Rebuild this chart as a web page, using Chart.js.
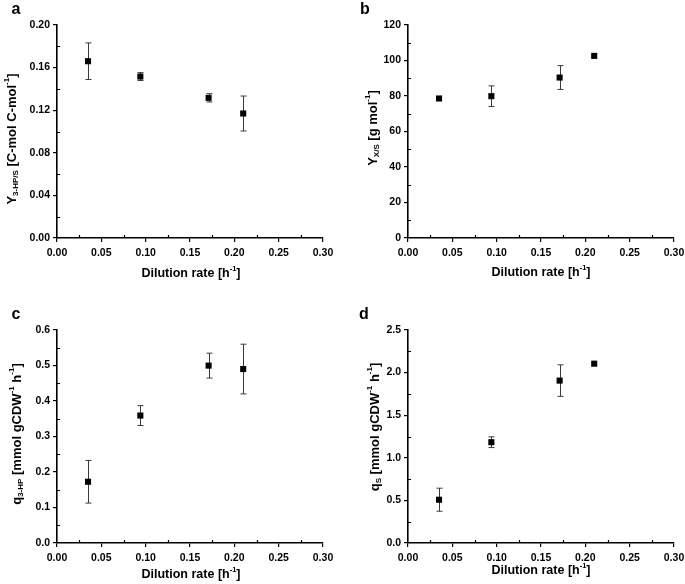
<!DOCTYPE html>
<html>
<head>
<meta charset="utf-8">
<script src="https://cdn.jsdelivr.net/npm/chart.js@4"></script>
<style>
  html, body { margin: 0; padding: 0; background: #fff; }
  #wrap { position: relative; width: 685px; height: 584px; overflow: hidden; }
  canvas { position: absolute; }
</style>
</head>
<body>
<div id="wrap">
  <canvas id="ca"></canvas>
  <canvas id="cb"></canvas>
  <canvas id="cc"></canvas>
  <canvas id="cd"></canvas>
</div>
<script>
// ---- data ----
const dilutionRate = [0.035, 0.094, 0.171, 0.210];
const xTicks = [0.00, 0.05, 0.10, 0.15, 0.20, 0.25, 0.30];

const yield3HP = [0.166, 0.1516, 0.1316, 0.1169];
const yield3HPsd = [0.0172, 0.0037, 0.0039, 0.0164];
const yield3HPticks = [0.00, 0.04, 0.08, 0.12, 0.16, 0.20];

const yieldXS = [78.6, 79.9, 90.4, 102.6];
const yieldXSsd = [0, 5.8, 6.7, 0];
const yieldXSticks = [0, 20, 40, 60, 80, 100, 120];

const q3HP = [0.1725, 0.359, 0.4997, 0.490];
const q3HPsd = [0.060, 0.028, 0.035, 0.070];
const q3HPticks = [0.0, 0.1, 0.2, 0.3, 0.4, 0.5, 0.6];

const qS = [0.508, 1.183, 1.906, 2.105];
const qSsd = [0.135, 0.063, 0.185, 0];
const qSticks = [0.0, 0.5, 1.0, 1.5, 2.0, 2.5];

const FONT = '"Liberation Sans", Arial, Helvetica, sans-serif';

function richText(ctx, segs, x, y, rotate) {
  ctx.save();
  ctx.translate(x, y);
  if (rotate) ctx.rotate(-Math.PI / 2);
  let total = 0;
  segs.forEach(s => {
    ctx.font = `bold ${s.size}px ${FONT}`;
    s.w = ctx.measureText(s.t).width;
    total += s.w;
  });
  let cx = -total / 2;
  ctx.textBaseline = 'middle';
  ctx.textAlign = 'left';
  ctx.fillStyle = '#000';
  segs.forEach(s => {
    ctx.font = `bold ${s.size}px ${FONT}`;
    ctx.fillText(s.t, cx, s.dy || 0);
    cx += s.w;
  });
  ctx.restore();
}

const xTitleSegs = [
  {t: 'Dilution rate [h', size: 12.5},
  {t: '-1', size: 7.5, dy: -5},
  {t: ']', size: 12.5}
];

function makePanel(p) {
  const cv = document.getElementById(p.id);
  cv.width = p.w; cv.height = p.h;
  cv.style.left = p.left + 'px'; cv.style.top = p.top + 'px';
  cv.style.width = p.w + 'px'; cv.style.height = p.h + 'px';

  const yStep = p.yTicks[1] - p.yTicks[0];
  const xStep = xTicks[1] - xTicks[0];

  const plugin = {
    id: 'extras' + p.id,
    beforeDatasetsDraw(chart) {
      const ctx = chart.ctx;
      const xs = chart.scales.x, ys = chart.scales.y;
      ctx.save();
      ctx.strokeStyle = '#3a3a3a';
      ctx.lineWidth = 1;
      dilutionRate.forEach((xv, i) => {
        const sd = p.sd[i];
        if (!sd) return;
        const px = Math.round(xs.getPixelForValue(xv)) + 0.5;
        const y1 = ys.getPixelForValue(p.values[i] + sd);
        const y2 = ys.getPixelForValue(p.values[i] - sd);
        ctx.beginPath();
        ctx.moveTo(px, y1); ctx.lineTo(px, y2);
        ctx.moveTo(px - 3, y1); ctx.lineTo(px + 3, y1);
        ctx.moveTo(px - 3, y2); ctx.lineTo(px + 3, y2);
        ctx.stroke();
      });
      ctx.restore();
    },
    afterDraw(chart) {
      const ctx = chart.ctx;
      const xs = chart.scales.x, ys = chart.scales.y;
      const a = chart.chartArea;
      ctx.save();
      ctx.strokeStyle = '#000';
      ctx.lineWidth = 1.2;
      // minor ticks inward
      ctx.beginPath();
      for (let i = 0; i < xTicks.length - 1; i++) {
        const px = Math.round(xs.getPixelForValue(xTicks[i] + xStep / 2)) + 0.5;
        ctx.moveTo(px, a.bottom); ctx.lineTo(px, a.bottom - 3);
      }
      for (let i = 0; i < p.yTicks.length - 1; i++) {
        const py = Math.round(ys.getPixelForValue(p.yTicks[i] + yStep / 2)) + 0.5;
        ctx.moveTo(a.left, py); ctx.lineTo(a.left + 3, py);
      }
      ctx.stroke();
      ctx.restore();
      // titles
      richText(ctx, xTitleSegs, p.xTitle[0], p.xTitle[1], false);
      richText(ctx, p.yTitleSegs, p.yTitle[0], p.yTitle[1], true);
      // panel letter
      ctx.save();
      ctx.font = `bold 16px ${FONT}`;
      ctx.fillStyle = '#000';
      ctx.textAlign = 'center';
      ctx.textBaseline = 'middle';
      ctx.fillText(p.letter, p.letterPos[0], p.letterPos[1]);
      ctx.restore();
    }
  };

  new Chart(cv, {
    type: 'scatter',
    data: {
      datasets: [{
        data: dilutionRate.map((x, i) => ({x: x, y: p.values[i]})),
        pointStyle: 'rect',
        pointRadius: 4.3,
        pointHoverRadius: 4.3,
        backgroundColor: '#000',
        borderColor: '#000',
        borderWidth: 0
      }]
    },
    options: {
      responsive: false,
      animation: false,
      events: [],
      layout: {
        autoPadding: false,
        padding: {left: 0, top: p.area.top, right: p.w - p.area.right, bottom: 0}
      },
      plugins: { legend: {display: false}, tooltip: {enabled: false}, title: {display: false} },
      scales: {
        x: {
          type: 'linear',
          min: xTicks[0], max: xTicks[xTicks.length - 1],
          afterBuildTicks(s) { s.ticks = xTicks.map(v => ({value: v})); },
          afterFit(s) { s.height = p.h - p.area.bottom; s.paddingLeft = 0; s.paddingRight = 0; },
          border: {display: true, color: '#000', width: 1.6},
          grid: {drawOnChartArea: false, drawTicks: true, tickLength: 4, color: '#000', lineWidth: 1.2},
          ticks: {
            padding: 5, color: '#000',
            font: {family: FONT, size: 10.5, weight: 'bold'},
            maxRotation: 0, autoSkip: false,
            callback: v => Number(v).toFixed(2)
          },
          title: {display: false}
        },
        y: {
          type: 'linear',
          min: p.yTicks[0], max: p.yTicks[p.yTicks.length - 1],
          afterBuildTicks(s) { s.ticks = p.yTicks.map(v => ({value: v})); },
          afterFit(s) { s.width = p.area.left; s.paddingTop = 0; s.paddingBottom = 0; },
          border: {display: true, color: '#000', width: 1.6},
          grid: {drawOnChartArea: false, drawTicks: true, tickLength: 4, color: '#000', lineWidth: 1.2},
          ticks: {
            padding: 3, color: '#000',
            font: {family: FONT, size: 10.5, weight: 'bold'},
            autoSkip: false,
            callback: v => Number(v).toFixed(p.yDec)
          },
          title: {display: false}
        }
      }
    },
    plugins: [plugin]
  });
}

makePanel({
  id: 'ca', left: 0, top: 0, w: 340, h: 296,
  area: {left: 57, top: 25, right: 323, bottom: 238},
  values: yield3HP, sd: yield3HPsd, yTicks: yield3HPticks, yDec: 2,
  xTitle: [191, 274], yTitle: [12, 139],
  yTitleSegs: [
    {t: 'Y', size: 13}, {t: '3-HP/S', size: 8, dy: 4},
    {t: ' [C-mol C-mol', size: 13}, {t: '-1', size: 8, dy: -5}, {t: ']', size: 13}
  ],
  letter: 'a', letterPos: [16, 10]
});

makePanel({
  id: 'cb', left: 340, top: 0, w: 345, h: 296,
  area: {left: 68, top: 25, right: 334, bottom: 238},
  values: yieldXS, sd: yieldXSsd, yTicks: yieldXSticks, yDec: 0,
  xTitle: [201, 273], yTitle: [33, 128],
  yTitleSegs: [
    {t: 'Y', size: 13}, {t: 'X/S', size: 8, dy: 4},
    {t: ' [g mol', size: 13}, {t: '-1', size: 8, dy: -5}, {t: ']', size: 13}
  ],
  letter: 'b', letterPos: [25, 10]
});

makePanel({
  id: 'cc', left: 0, top: 296, w: 340, h: 288,
  area: {left: 57, top: 34, right: 323, bottom: 247},
  values: q3HP, sd: q3HPsd, yTicks: q3HPticks, yDec: 1,
  xTitle: [191, 279], yTitle: [17, 138],
  yTitleSegs: [
    {t: 'q', size: 13}, {t: '3-HP', size: 8, dy: 4},
    {t: ' [mmol gCDW', size: 13}, {t: '-1', size: 8, dy: -5},
    {t: ' h', size: 13}, {t: '-1', size: 8, dy: -5}, {t: ']', size: 13}
  ],
  letter: 'c', letterPos: [16, 19]
});

makePanel({
  id: 'cd', left: 340, top: 296, w: 345, h: 288,
  area: {left: 68, top: 34, right: 334, bottom: 247},
  values: qS, sd: qSsd, yTicks: qSticks, yDec: 1,
  xTitle: [201, 275], yTitle: [35, 131],
  yTitleSegs: [
    {t: 'q', size: 13}, {t: 'S', size: 8, dy: 4},
    {t: ' [mmol gCDW', size: 13}, {t: '-1', size: 8, dy: -5},
    {t: ' h', size: 13}, {t: '-1', size: 8, dy: -5}, {t: ']', size: 13}
  ],
  letter: 'd', letterPos: [24, 19]
});
</script>
</body>
</html>
